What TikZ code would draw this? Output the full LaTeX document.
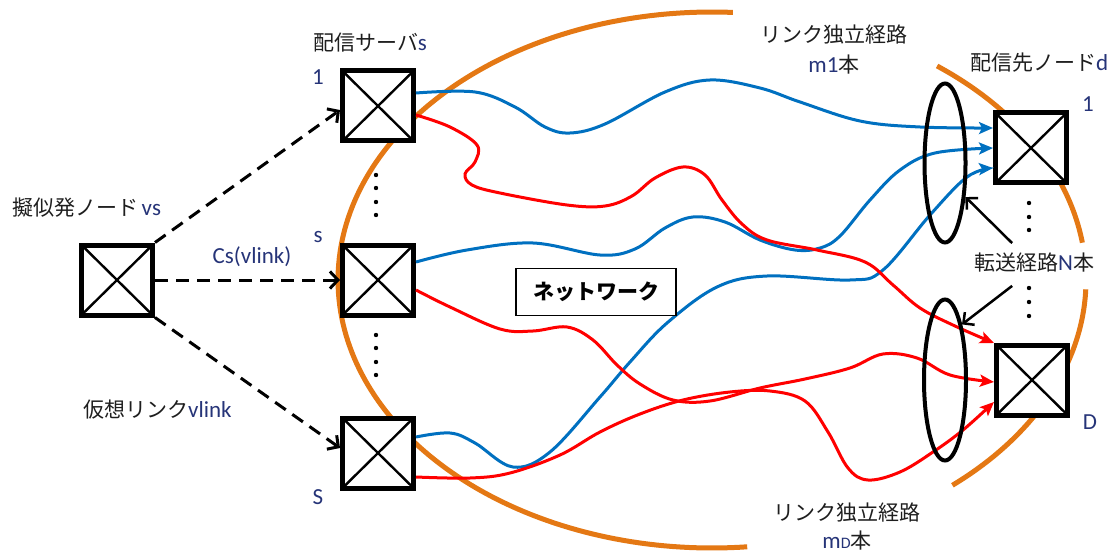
\documentclass[tikz,border=0pt]{standalone}
\usepackage{fontspec}
\setmainfont{Carlito}
\newfontfamily\jp{Noto Sans CJK JP}
\usetikzlibrary{arrows.meta,calc,shapes.geometric}
\definecolor{obl}{RGB}{0,112,192}
\definecolor{ored}{RGB}{255,0,0}
\definecolor{oorg}{RGB}{228,120,20}
\definecolor{latc}{RGB}{38,52,120}
\definecolor{jpc}{RGB}{30,30,30}
\newcommand{\la}[1]{{\rmfamily\fontsize{23}{25}\selectfont\color{latc}#1}}
\begin{document}
\begin{tikzpicture}[x=1pt,y=-1pt,
  font=\fontsize{21}{25}\selectfont,
  box/.style={draw=black, line width=5pt, fill=white, minimum width=71pt, minimum height=70pt, inner sep=0pt,
    path picture={\draw[line width=2.4pt] (path picture bounding box.north west) -- (path picture bounding box.south east)
      (path picture bounding box.north east) -- (path picture bounding box.south west);}},
  vlk/.style={line width=3pt, dash pattern=on 13pt off 8pt, -{Straight Barb[length=8pt,width=17pt]}},
  bl/.style={obl, line width=3pt, -{Stealth[length=14pt,width=12pt,inset=3pt]}},
  rd/.style={ored, line width=3pt, -{Stealth[length=14pt,width=12pt,inset=3pt]}},
  org/.style={oorg, line width=5pt},
  grp/.style={draw=black, ellipse, line width=4pt, inner sep=0pt},
  ptr/.style={line width=2.5pt, -{Straight Barb[length=8pt,width=16pt]}},
  txt/.style={inner sep=0pt, text=jpc},
  num/.style={inner sep=0pt, text=latc, font=\fontsize{23}{25}\selectfont},
  dot/.style={fill=black}
]
\useasboundingbox (0,0) rectangle (1115,553);

% network boundary (orange ellipse, interrupted by labels)
\draw[org] plot[domain=84.6:273.2, samples=150] ({712+374*cos(\x)},{280+268*sin(\x)});
\draw[org] plot[domain=-53:-8, samples=60] ({712+374*cos(\x)},{280+268*sin(\x)});
\draw[org] plot[domain=2:50, samples=60] ({712+374*cos(\x)},{280+268*sin(\x)});

% nodes
\node[box] (vs) at (117,280) {};
\node[box] (s1) at (378,106) {};
\node[box] (ss) at (378,280) {};
\node[box] (sS) at (378,453) {};
\node[box] (d1) at (1031,148) {};
\node[box] (dD) at (1032,380) {};

% path end points
\coordinate (b1a) at ($(s1.east)+(0,-13)$);
\coordinate (r1a) at ($(s1.east)+(0,9)$);
\coordinate (b2a) at ($(ss.east)+(0,-18)$);
\coordinate (r2a) at ($(ss.east)+(0,10)$);
\coordinate (b3a) at ($(sS.east)+(0,-16)$);
\coordinate (r3a) at ($(sS.east)+(0,24)$);
\coordinate (b1z) at ($(d1.west)+(0,-20)$);
\coordinate (b2z) at ($(d1.west)+(0,0)$);
\coordinate (b3z) at ($(d1.west)+(0,20)$);
\coordinate (r1z) at ($(dD.west)+(0,-37)$);
\coordinate (r2z) at ($(dD.west)+(0,2)$);
\coordinate (r3z) at ($(dD.west)+(0,22)$);

% blue paths
\draw[bl] plot[smooth, tension=0.6] coordinates {(b1a) (475,92) (515,107) (545,127) (570,133) (605,124) (665,92) (710,80) (760,88) (800,102) (860,121) (920,127) (b1z)};
\draw[bl] plot[smooth, tension=0.6] coordinates {(b2a) (467,250) (533,243) (600,255) (635,249) (665,228) (693,217) (725,222) (760,240) (795,250) (820,248) (840,236) (870,200) (900,170) (935,153) (b2z)};
\draw[bl] plot[smooth, tension=0.6] coordinates {(b3a) (450,433) (475,443) (513,467) (550,452) (600,397) (630,362) (667,323) (717,287) (767,276) (850,280) (883,270) (930,215) (967,177) (b3z)};

% red paths
\draw[rd] plot[smooth, tension=0.6] coordinates {(r1a) (450,127) (477,145) (475,162) (465,174) (472,185) (500,193) (567,205) (605,206) (632,196) (655,178) (683,167) (705,175) (722,200) (742,224) (767,240) (817,250) (865,262) (893,285) (920,308) (955,326) (r1z)};
\draw[rd] plot[smooth, tension=0.6] coordinates {(r2a) (450,307) (500,329) (533,331) (567,327) (593,340) (617,365) (640,384) (673,400) (710,401) (760,388) (805,379) (850,368) (883,354) (917,358) (950,375) (r2z)};
\draw[rd] plot[smooth, tension=0.6] coordinates {(r3a) (470,478) (510,473) (560,455) (600,432) (640,414) (683,400) (730,392) (770,391) (805,401) (828,432) (848,468) (868,480) (900,472) (933,452) (963,430) (r3z)};

% virtual links
\draw[vlk] (vs.north east) -- ($(s1.west)+(0,4)$);
\draw[vlk] (vs.east) -- (ss.west);
\draw[vlk] (vs.south east) -- ($(sS.west)+(0,-5)$);

% network label
\node[draw=black, line width=1.5pt, fill=white, minimum width=160pt, minimum height=47pt, text=black] (net) at (596,292) {\jp\bfseries ネットワーク};

% path groups
\node[grp, minimum width=41pt, minimum height=159pt] (g1) at (945,163) {};
\node[grp, minimum width=42pt, minimum height=161pt] (g2) at (945,380) {};

% dots
\foreach \yy in {175,188,202,215,335,348,362,375} \fill[dot] (376,\yy) circle[radius=2.2pt];
\foreach \yy in {203,217,230,288,302,316} \fill[dot] (1029,\yy) circle[radius=2.2pt];

% labels
\node[txt, anchor=west] (tvs) at (12,208) {\jp 擬似発ノード\,\la{vs}};
\node[num] (tcs) at (252,257) {Cs(vlink)};
\node[txt, anchor=west] (tvl) at (83,410) {\jp 仮想リンク\la{vlink}};
\node[txt, anchor=west] (tsv) at (313,43) {\jp 配信サーバ\la{s}};
\node[num] (t1) at (318,77) {1};
\node[num] (ts) at (318,237) {s};
\node[num] (tS) at (318,497) {S};
\node[txt] (tm1a) at (834,35) {\jp リンク独立経路};
\node[txt] (tm1b) at (834,65) {\la{m1}\jp 本};
\node[txt] (tmDa) at (847,513) {\jp リンク独立経路};
\node[txt] (tmDb) at (847,541) {\la{m{\fontsize{16}{16}\selectfont D}}\jp 本};
\node[txt, anchor=west] (tdd) at (970,63) {\jp 配信先ノード\la{d}};
\node[num] (td1) at (1088,104) {1};
\node[num] (tdD) at (1090,422) {D};
\node[txt, anchor=west, inner sep=2pt] (tN) at (972,263) {\jp 転送経路\la{N}本};

\draw[ptr] ([xshift=-22pt,yshift=8pt]tN.north) -- (g1.-59);
\draw[ptr] ([xshift=-22pt,yshift=-11pt]tN.south) -- (g2.73);
\end{tikzpicture}
\end{document}
